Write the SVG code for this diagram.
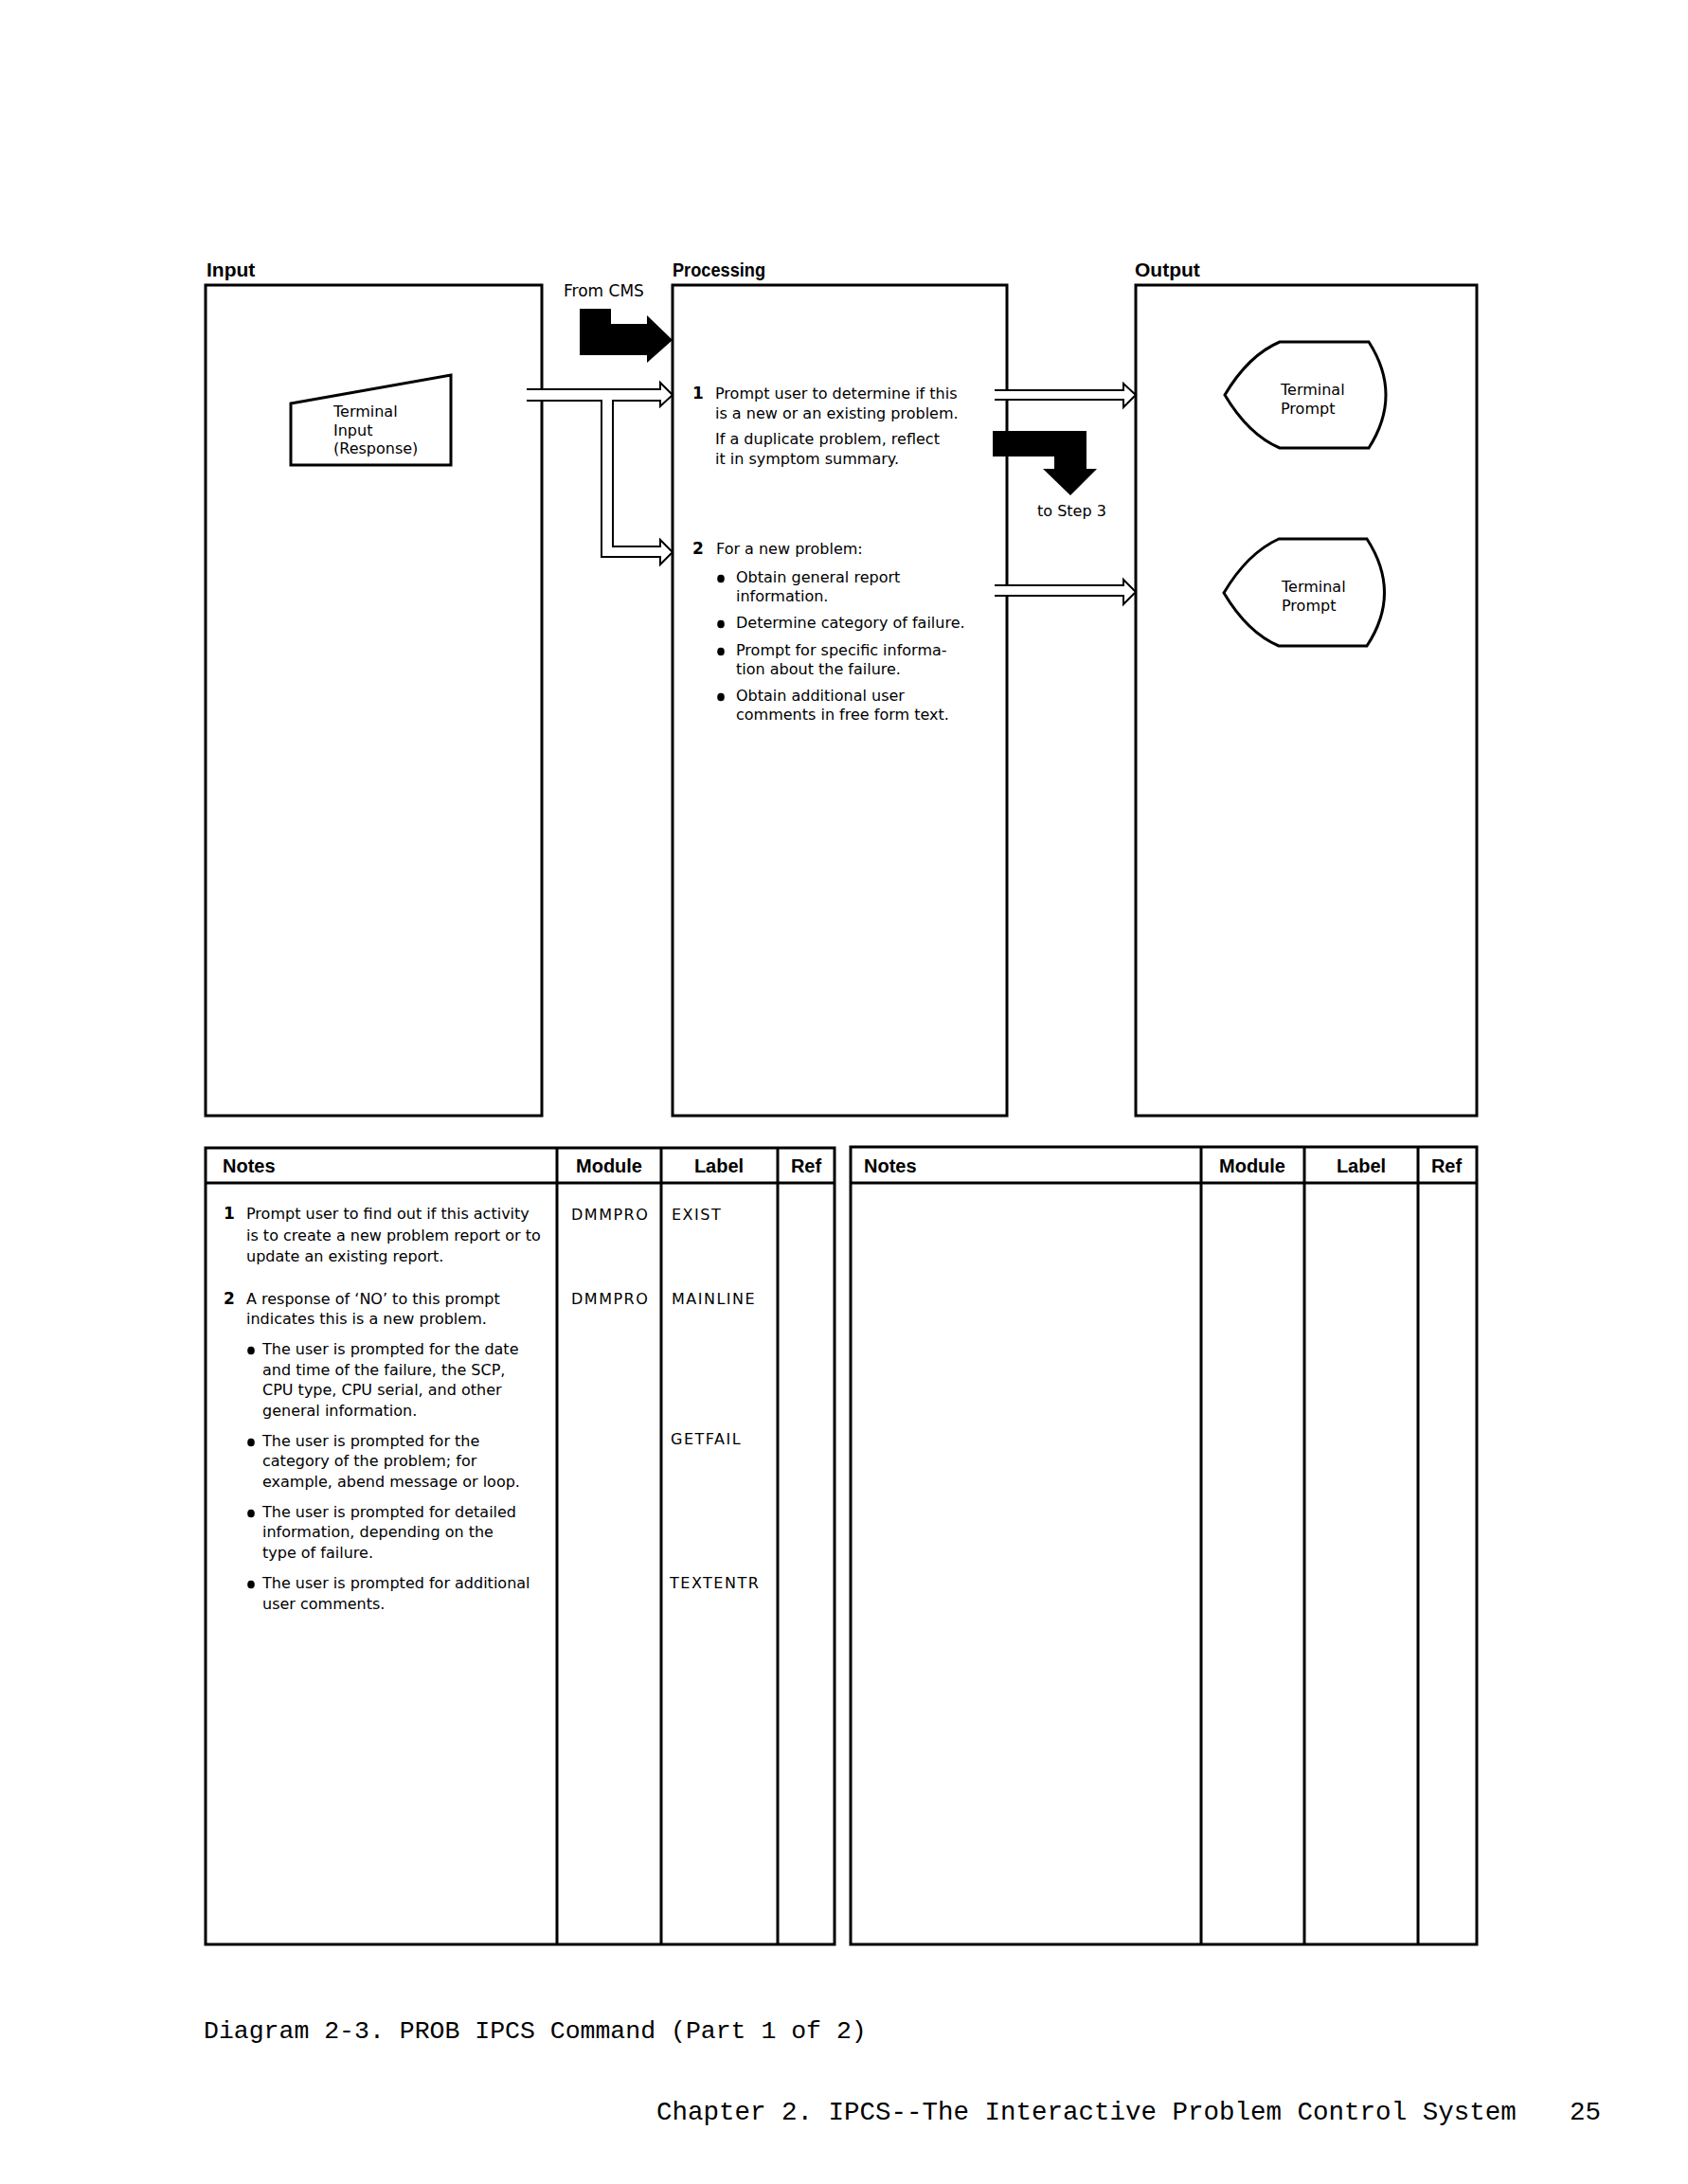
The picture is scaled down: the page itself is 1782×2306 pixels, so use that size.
<svg xmlns="http://www.w3.org/2000/svg" width="1782" height="2306" viewBox="0 0 1782 2306">
<style>
.box{fill:none;stroke:#000;stroke-width:3}
.hd{font-family:"Liberation Sans",Arial,sans-serif;font-weight:bold;font-size:21px;fill:#000}
.th{font-family:"Liberation Sans",Arial,sans-serif;font-weight:bold;font-size:20px;fill:#000}
.t{font-family:"DejaVu Sans",sans-serif;font-size:16px;fill:#000}
.n{font-family:"DejaVu Sans",sans-serif;font-size:17px;font-weight:bold;fill:#000}
.lb{font-family:"DejaVu Sans",sans-serif;font-size:16px;letter-spacing:1.5px;fill:#000}
.mono{font-family:"Liberation Mono","Courier New",monospace;font-size:26.5px;fill:#000}
.foot{font-family:"Liberation Mono","Courier New",monospace;font-size:27.5px;fill:#000}
.open{fill:#fff;stroke:#000;stroke-width:2;stroke-linejoin:miter}
.solid{fill:#000;stroke:none}
.shape{fill:#fff;stroke:#000;stroke-width:3;stroke-linejoin:miter}
.ln{stroke:#000;stroke-width:3;fill:none}
.c{text-anchor:middle}
</style>
<rect x="0" y="0" width="1782" height="2306" fill="#fff"/>

<g id="input-panel">
  <text class="hd" x="218" y="292">Input</text>
  <rect class="box" x="217" y="301" width="355" height="877"/>
</g>
<g id="processing-panel">
  <text class="hd" x="710" y="292" textLength="98" lengthAdjust="spacingAndGlyphs">Processing</text>
  <rect class="box" x="710" y="301" width="353" height="877"/>
</g>
<g id="output-panel">
  <text class="hd" x="1198" y="292">Output</text>
  <rect class="box" x="1199" y="301" width="360" height="877"/>
</g>

<g id="connectors">
  <path class="open" d="M556,411 H697 V404 L710,417 L697,429 V423 H647 V577 H697 V570 L710,583 L697,596 V588 H635 V423 H556"/>
  <path class="open" d="M1050,412 H1186 V405 L1199,417 L1186,430 V422 H1050"/>
  <path class="open" d="M1050,618 H1186 V612 L1199,625 L1186,638 V629 H1050"/>
  <polygon class="solid" points="612,326 645,326 645,342 683,342 683,333 710,359 683,383 683,375 612,375"/>
  <polygon class="solid" points="1048,455 1147,455 1147,495 1158,495 1130,523 1101,495 1113,495 1113,482 1048,482"/>
  <text class="t" x="595" y="313" style="font-size:17px">From CMS</text>
  <text class="t" x="1095" y="545">to Step 3</text>
</g>

<g id="terminal-input">
  <polygon class="shape" points="307,426 476,396 476,491 307,491"/>
  <text class="t" x="352" y="440">Terminal</text>
  <text class="t" x="352" y="460">Input</text>
  <text class="t" x="352" y="479">(Response)</text>
</g>

<g id="step1">
  <text class="n" x="731" y="421">1</text>
  <text class="t" x="755" y="421">Prompt user to determine if this</text>
  <text class="t" x="755" y="442">is a new or an existing problem.</text>
  <text class="t" x="755" y="469">If a duplicate problem, reflect</text>
  <text class="t" x="755" y="490">it in symptom summary.</text>
</g>

<g id="step2">
  <text class="n" x="731" y="585">2</text>
  <text class="t" x="756" y="585">For a new problem:</text>
  <ellipse cx="761" cy="611" rx="3.8" ry="4.3"/>
  <text class="t" x="777" y="615">Obtain general report</text>
  <text class="t" x="777" y="635">information.</text>
  <ellipse cx="761" cy="659" rx="3.8" ry="4.3"/>
  <text class="t" x="777" y="663">Determine category of failure.</text>
  <ellipse cx="761" cy="688" rx="3.8" ry="4.3"/>
  <text class="t" x="777" y="692">Prompt for specific informa-</text>
  <text class="t" x="777" y="712">tion about the failure.</text>
  <ellipse cx="761" cy="736" rx="3.8" ry="4.3"/>
  <text class="t" x="777" y="740">Obtain additional user</text>
  <text class="t" x="777" y="760">comments in free form text.</text>
</g>

<g id="terminal-prompt-1">
  <path class="shape" d="M1293,417 Q1318,375 1351,361 H1445 Q1481,417 1445,473 H1351 Q1318,459 1293,417 Z"/>
  <text class="t" x="1352" y="417">Terminal</text>
  <text class="t" x="1352" y="437">Prompt</text>
</g>
<g id="terminal-prompt-2">
  <path class="shape" d="M1292,626 Q1317,584 1350,569 H1443 Q1480,626 1443,682 H1350 Q1317,668 1292,626 Z"/>
  <text class="t" x="1353" y="625">Terminal</text>
  <text class="t" x="1353" y="645">Prompt</text>
</g>

<g id="notes-table-left">
  <rect class="box" x="217" y="1212" width="664" height="841"/>
  <line class="ln" x1="217" y1="1249" x2="881" y2="1249"/>
  <line class="ln" x1="588" y1="1212" x2="588" y2="2053"/>
  <line class="ln" x1="698" y1="1212" x2="698" y2="2053"/>
  <line class="ln" x1="821" y1="1212" x2="821" y2="2053"/>
  <text class="th" x="235" y="1238">Notes</text>
  <text class="th c" x="643" y="1238">Module</text>
  <text class="th c" x="759" y="1238">Label</text>
  <text class="th c" x="851" y="1238">Ref</text>

  <text class="n" x="236" y="1287">1</text>
  <text class="t" x="260" y="1287">Prompt user to find out if this activity</text>
  <text class="t" x="260" y="1310">is to create a new problem report or to</text>
  <text class="t" x="260" y="1332">update an existing report.</text>
  <text class="lb" x="603" y="1288">DMMPRO</text>
  <text class="lb" x="709" y="1288">EXIST</text>

  <text class="n" x="236" y="1377">2</text>
  <text class="t" x="260" y="1377">A response of ‘NO’ to this prompt</text>
  <text class="t" x="260" y="1398">indicates this is a new problem.</text>
  <text class="lb" x="603" y="1377">DMMPRO</text>
  <text class="lb" x="709" y="1377">MAINLINE</text>

  <ellipse cx="265" cy="1426" rx="3.8" ry="4.3"/>
  <text class="t" x="277" y="1430">The user is prompted for the date</text>
  <text class="t" x="277" y="1452">and time of the failure, the SCP,</text>
  <text class="t" x="277" y="1473">CPU type, CPU serial, and other</text>
  <text class="t" x="277" y="1495">general information.</text>

  <ellipse cx="265" cy="1523" rx="3.8" ry="4.3"/>
  <text class="t" x="277" y="1527">The user is prompted for the</text>
  <text class="t" x="277" y="1548">category of the problem; for</text>
  <text class="t" x="277" y="1570">example, abend message or loop.</text>
  <text class="lb" x="708" y="1525">GETFAIL</text>

  <ellipse cx="265" cy="1598" rx="3.8" ry="4.3"/>
  <text class="t" x="277" y="1602">The user is prompted for detailed</text>
  <text class="t" x="277" y="1623">information, depending on the</text>
  <text class="t" x="277" y="1645">type of failure.</text>

  <ellipse cx="265" cy="1673" rx="3.8" ry="4.3"/>
  <text class="t" x="277" y="1677">The user is prompted for additional</text>
  <text class="t" x="277" y="1699">user comments.</text>
  <text class="lb" x="707" y="1677">TEXTENTR</text>
</g>

<g id="notes-table-right">
  <rect class="box" x="898" y="1211" width="661" height="842"/>
  <line class="ln" x1="898" y1="1249" x2="1559" y2="1249"/>
  <line class="ln" x1="1268" y1="1211" x2="1268" y2="2053"/>
  <line class="ln" x1="1377" y1="1211" x2="1377" y2="2053"/>
  <line class="ln" x1="1497" y1="1211" x2="1497" y2="2053"/>
  <text class="th" x="912" y="1238">Notes</text>
  <text class="th c" x="1322" y="1238">Module</text>
  <text class="th c" x="1437" y="1238">Label</text>
  <text class="th c" x="1527" y="1238">Ref</text>
</g>

<g id="caption">
  <text class="mono" x="215" y="2152">Diagram 2-3. PROB IPCS Command (Part 1 of 2)</text>
</g>
<g id="footer">
  <text class="foot" x="693" y="2238">Chapter 2. IPCS--The Interactive Problem Control System</text>
  <text class="foot" x="1657" y="2238">25</text>
</g>
</svg>
